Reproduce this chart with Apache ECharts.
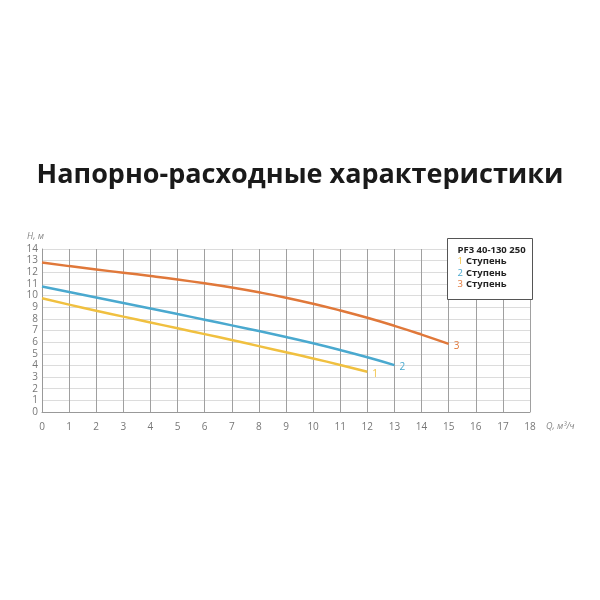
<!DOCTYPE html>
<html>
<head>
<meta charset="utf-8">
<script src="https://cdn.jsdelivr.net/npm/echarts@6/dist/echarts.min.js"></script>
<style>
  html, body { margin: 0; padding: 0; background: #fff; }
  #chart { width: 600px; height: 600px; }
</style>
</head>
<body>
<div id="chart"></div>
<script>
// расход Q, м3/ч
var flow = [0, 1, 2, 3, 4, 5, 6, 7, 8, 9, 10, 11, 12, 13, 14, 15];
// напор H, м по ступеням
var stage1 = [9.77, 9.22, 8.7, 8.19, 7.69, 7.19, 6.69, 6.18, 5.66, 5.13, 4.6, 4.04, 3.45];
var stage2 = [10.78, 10.3, 9.83, 9.36, 8.89, 8.41, 7.93, 7.44, 6.95, 6.44, 5.9, 5.32, 4.7, 4.03];
var stage3 = [12.84, 12.53, 12.24, 11.96, 11.68, 11.38, 11.05, 10.69, 10.28, 9.82, 9.3, 8.72, 8.09, 7.4, 6.65, 5.85];
var stageNames = ['1', '2', '3'];
var stageColors = ['#f0c040', '#4aa9cf', '#e0783a'];

var FONT = '"Open Sans", "Noto Sans", sans-serif';

function pairs(values) {
  var out = [];
  for (var i = 0; i < values.length; i++) {
    out.push([flow[i], values[i]]);
  }
  return out;
}

var chart = echarts.init(document.getElementById('chart'), null, { renderer: 'canvas' });

var series = [stage1, stage2, stage3].map(function (vals, i) {
  return {
    name: stageNames[i],
    type: 'line',
    smooth: true,
    symbol: 'none',
    data: pairs(vals),
    lineStyle: { color: stageColors[i], width: 2.5 },
    endLabel: {
      show: true,
      formatter: stageNames[i],
      color: stageColors[i],
      fontFamily: FONT,
      fontSize: 10,
      offset: [-3, 2]
    },
    animation: false
  };
});

var option = {
  backgroundColor: '#fff',
  textStyle: { fontFamily: FONT },
  title: {
    text: 'Напорно-расходные характеристики',
    left: 'center',
    top: 157,
    textStyle: { fontFamily: FONT, fontWeight: 'bold', fontSize: 27, color: '#1a1a1a' }
  },
  grid: { left: 42, right: 70, top: 249, bottom: 188 },
  xAxis: {
    type: 'value',
    min: 0,
    max: 18,
    interval: 1,
    name: 'Q, м³/ч',
    nameLocation: 'end',
    nameGap: 16,
    nameTextStyle: { color: '#888', fontStyle: 'italic', fontSize: 9, verticalAlign: 'top', padding: [10, 0, 0, 0] },
    axisLine: { lineStyle: { color: '#999', width: 1 } },
    axisTick: { show: false },
    axisLabel: { color: '#777', fontSize: 10, margin: 10 },
    splitLine: { show: true, lineStyle: { color: '#a0a0a0', width: 1 } }
  },
  yAxis: {
    type: 'value',
    min: 0,
    max: 14,
    interval: 1,
    name: 'H, м',
    nameLocation: 'end',
    nameGap: 8,
    nameTextStyle: { color: '#888', fontStyle: 'italic', fontSize: 9, align: 'right', padding: [0, -2, 0, 0] },
    axisLine: { show: true, lineStyle: { color: '#999', width: 1 } },
    axisTick: { show: false },
    axisLabel: { color: '#777', fontSize: 10, margin: 4 },
    splitLine: { show: true, lineStyle: { color: '#dcdcdc', width: 1 } }
  },
  graphic: [
    {
      type: 'group',
      left: 447,
      top: 238,
      z: 100,
      children: [
        {
          type: 'rect',
          z: 100,
          shape: { x: 0, y: 0, width: 85, height: 61 },
          style: { fill: '#fff', stroke: '#555', lineWidth: 1 }
        },
        {
          type: 'text',
          z: 101,
          x: 10,
          y: 6,
          style: {
            text: '{h|PF3 40-130 250}\n{a|1} {t|Ступень}\n{b|2} {t|Ступень}\n{c|3} {t|Ступень}',
            fontFamily: FONT,
            lineHeight: 11.5,
            rich: {
              h: { fontSize: 9.5, fontWeight: 'bold', fill: '#222', fontFamily: FONT },
              t: { fontSize: 9.5, fontWeight: 'bold', fill: '#222', fontFamily: FONT },
              a: { fontSize: 9.5, fill: stageColors[0], fontFamily: FONT },
              b: { fontSize: 9.5, fill: stageColors[1], fontFamily: FONT },
              c: { fontSize: 9.5, fill: stageColors[2], fontFamily: FONT }
            }
          }
        }
      ]
    }
  ],
  series: series
};

chart.setOption(option);
</script>
</body>
</html>
